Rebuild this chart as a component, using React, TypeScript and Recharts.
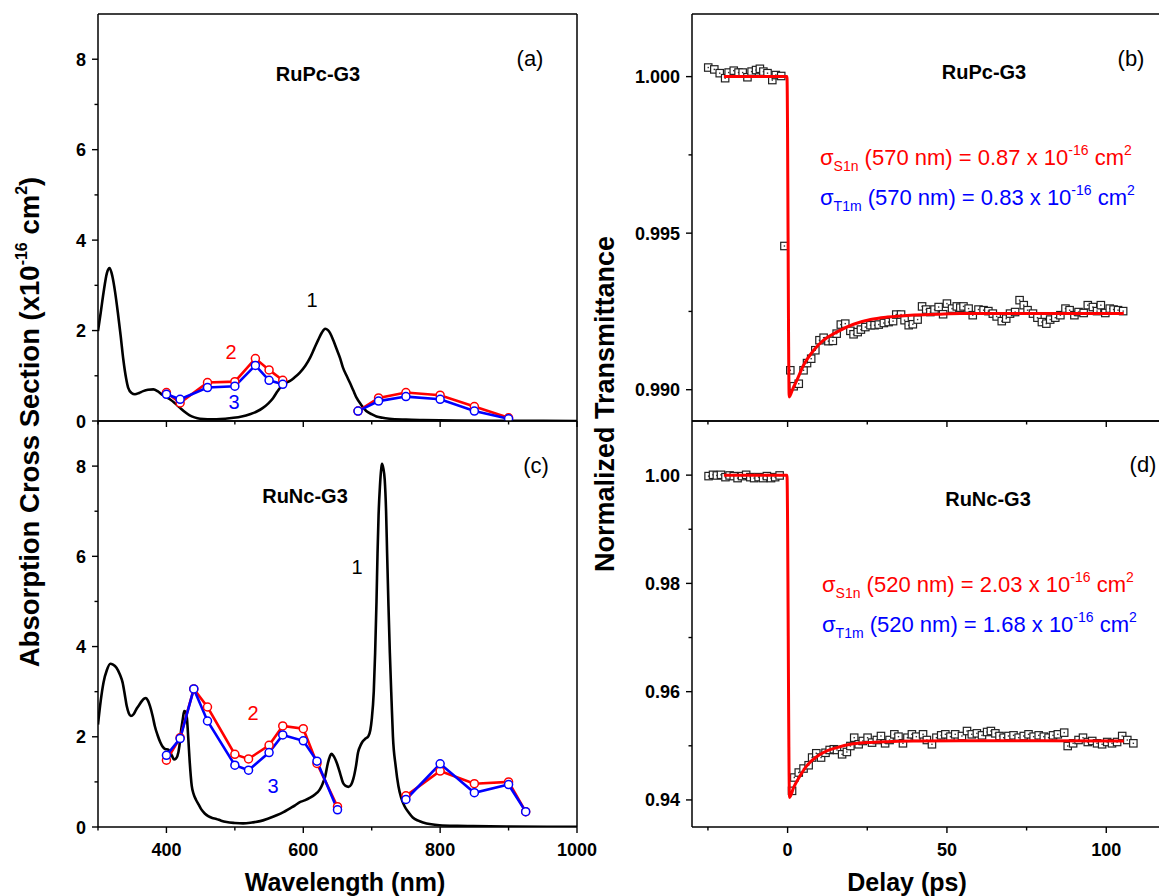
import { LineChart, ComposedChart, Line, Scatter, XAxis, YAxis } from 'recharts'

const FONT = '"Liberation Sans", Arial, sans-serif'
const RED = '#ff0000'
const BLUE = '#0000ff'

// ---- (a) RuPc-G3 absorption spectrum, curve 1
const pcAbsWl = [300, 304, 308, 313, 317, 321, 325, 329, 333, 337, 341, 344, 349, 354, 360, 366, 373, 381, 387, 393, 399, 405, 412, 420, 427, 434, 441, 449, 460, 473, 486, 498, 510, 522, 532, 541, 549, 556, 562, 568, 574, 580, 587, 595, 603, 610, 616, 622, 627, 632, 636, 639, 644, 649, 654, 658, 663, 668, 673, 678, 685, 692, 700, 707, 716, 726, 750, 775, 824, 900, 1000]
const pcAbsVal = [1.99, 2.4, 2.83, 3.27, 3.38, 3.2, 2.85, 2.4, 1.9, 1.36, 0.95, 0.74, 0.62, 0.59, 0.62, 0.66, 0.69, 0.7, 0.66, 0.59, 0.54, 0.48, 0.4, 0.29, 0.2, 0.125, 0.08, 0.05, 0.04, 0.04, 0.05, 0.07, 0.1, 0.15, 0.21, 0.29, 0.39, 0.51, 0.65, 0.77, 0.84, 0.88, 0.96, 1.07, 1.22, 1.4, 1.6, 1.8, 1.95, 2.04, 2.01, 1.95, 1.78, 1.58, 1.38, 1.18, 1.01, 0.85, 0.68, 0.51, 0.35, 0.22, 0.15, 0.1, 0.07, 0.05, 0.03, 0.02, 0.01, 0.005, 0]

// (a) excited-state cross sections, curves 2 (S1n) and 3 (T1m)
const pcWl1 = [400, 420, 460, 500, 530, 550, 570]
const pcWl2 = [680, 710, 750, 800, 850, 900]
const pcS1n1 = [0.63, 0.4, 0.85, 0.87, 1.38, 1.13, 0.9]
const pcS1n2 = [0.22, 0.51, 0.63, 0.57, 0.32, 0.07]
const pcT1m1 = [0.59, 0.48, 0.74, 0.77, 1.23, 0.9, 0.81]
const pcT1m2 = [0.22, 0.44, 0.54, 0.48, 0.22, 0.05]

// ---- (c) RuNc-G3 absorption spectrum, curve 1
const ncAbsWl = [300, 304, 308, 313, 318, 322, 327, 332, 336, 339, 342, 345, 348, 352, 356, 360, 364, 368, 370, 373, 376, 380, 383, 387, 391, 395, 398, 402, 404, 408, 411, 414, 416, 419, 421, 424, 426, 428, 430, 432, 434, 437, 440, 443, 447, 451, 456, 461, 467, 473, 480, 488, 500, 512, 525, 537, 549, 561, 571, 580, 588, 595, 602, 610, 617, 624, 628, 632, 636, 639, 641, 644, 649, 654, 658, 662, 666, 670, 673, 677, 680, 684, 687, 691, 695, 698, 700, 703, 705, 707, 708.5, 710, 712, 714, 715, 717, 719, 721, 722.5, 724.5, 726.5, 729, 731, 735, 739, 743, 748, 754, 760, 768, 775, 787, 799, 825, 848, 900, 1000]
const ncAbsVal = [2.27, 2.8, 3.2, 3.48, 3.62, 3.6, 3.53, 3.38, 3.2, 2.95, 2.68, 2.52, 2.46, 2.5, 2.61, 2.7, 2.79, 2.85, 2.86, 2.8, 2.68, 2.45, 2.24, 2.04, 1.88, 1.77, 1.73, 1.72, 1.7, 1.58, 1.5, 1.52, 1.57, 1.8, 2.09, 2.4, 2.57, 2.55, 2.4, 1.95, 1.45, 0.91, 0.72, 0.61, 0.5, 0.39, 0.3, 0.24, 0.2, 0.18, 0.14, 0.11, 0.09, 0.08, 0.1, 0.13, 0.19, 0.26, 0.33, 0.41, 0.48, 0.55, 0.59, 0.65, 0.72, 0.83, 0.95, 1.12, 1.42, 1.57, 1.62, 1.58, 1.42, 1.18, 0.98, 0.91, 0.89, 0.94, 1.06, 1.35, 1.65, 1.82, 1.9, 1.96, 2.01, 2.15, 2.38, 3.0, 3.86, 5.0, 6.07, 6.9, 7.55, 7.95, 8.05, 7.95, 7.7, 7.0, 6.07, 4.9, 3.86, 2.8, 2.01, 1.35, 0.91, 0.65, 0.46, 0.32, 0.21, 0.14, 0.1, 0.06, 0.04, 0.025, 0.02, 0.01, 0.005]

const ncWl1 = [400, 420, 440, 460, 500, 520, 550, 570, 600, 620, 650]
const ncWl2 = [750, 800, 850, 900, 925]
const ncS1n1 = [1.48, 1.98, 3.06, 2.66, 1.61, 1.51, 1.81, 2.24, 2.18, 1.41, 0.45]
const ncS1n2 = [0.69, 1.24, 0.96, 1.0, 0.34]
const ncT1m1 = [1.59, 1.96, 3.06, 2.35, 1.37, 1.26, 1.65, 2.04, 1.91, 1.46, 0.38]
const ncT1m2 = [0.61, 1.4, 0.76, 0.94, 0.34]

// ---- (b) RuPc-G3 transmittance vs delay
const pcDelay = [-24.9, -23.0, -21.3, -19.6, -18.5, -16.9, -15.4, -14.1, -12.6, -11.3, -9.9, -8.7, -7.6, -6.3, -4.8, -3.7, -2.0, -1.0, 0.85, 1.9, 3.5, 5.0, 6.1, 7.4, 8.7, 10.0, 11.3, 12.8, 14.2, 15.4, 16.7, 18.1, 19.7, 20.7, 22.0, 23.0, 24.4, 26.0, 27.3, 28.6, 30.2, 31.7, 33.1, 34.1, 35.6, 36.7, 38.0, 39.3, 40.8, 42.2, 43.5, 44.8, 46.1, 47.4, 48.8, 50.0, 51.6, 53.1, 54.2, 55.2, 56.8, 58.1, 59.9, 61.5, 63.0, 64.4, 65.6, 67.2, 68.6, 69.8, 71.4, 72.8, 74.1, 75.3, 77.0, 78.4, 79.8, 81.2, 82.4, 84.0, 85.6, 87.2, 88.5, 90.0, 91.3, 92.9, 94.2, 95.8, 97.1, 98.3, 99.7, 101.1, 102.3, 103.7, 105.3]
const pcTrans = [1.00029, 1.00023, 1.00011, 0.99995, 1.00013, 1.00019, 1.00013, 1.00013, 0.99998, 1.00016, 1.00021, 1.00025, 1.00016, 1.00011, 0.99989, 1.00005, 1.00002, 0.99459, 0.99062, 0.99011, 0.99019, 0.99062, 0.99085, 0.99099, 0.99126, 0.99158, 0.99166, 0.99155, 0.99156, 0.99179, 0.99208, 0.99211, 0.99188, 0.99177, 0.99184, 0.99192, 0.992, 0.99206, 0.99206, 0.99208, 0.99213, 0.99216, 0.99219, 0.9924, 0.9924, 0.99222, 0.99206, 0.99209, 0.99224, 0.99266, 0.99256, 0.99248, 0.99256, 0.99264, 0.99241, 0.99275, 0.99259, 0.99266, 0.99262, 0.99266, 0.99259, 0.99238, 0.99256, 0.99254, 0.99251, 0.99243, 0.99234, 0.99219, 0.99227, 0.99243, 0.99248, 0.99286, 0.9927, 0.99254, 0.99243, 0.9923, 0.99216, 0.99211, 0.99224, 0.9923, 0.99238, 0.99259, 0.99254, 0.99238, 0.99248, 0.99245, 0.9927, 0.99264, 0.99251, 0.9927, 0.99245, 0.99259, 0.99256, 0.99254, 0.99251]
const pcFitT = [-20, -0.2, 0.5, 1.6, 2.9, 5.0, 8.2, 11.3, 15.4, 20.7, 26.0, 31.3, 38.6, 47.0, 54.3, 70, 90, 105.5]
const pcFitV = [1.0, 1.0, 0.98977, 0.99002, 0.9903, 0.99078, 0.99126, 0.99158, 0.99184, 0.99209, 0.99224, 0.99232, 0.99238, 0.99241, 0.99243, 0.99243, 0.99243, 0.99243]

// ---- (d) RuNc-G3 transmittance vs delay
const ncDelay = [-24.8, -23.4, -22.2, -20.9, -19.5, -18.2, -16.9, -15.7, -14.3, -13.0, -11.7, -10.5, -9.1, -7.7, -6.5, -5.2, -3.9, -2.5, 1.4, 2.1, 3.5, 5.0, 6.6, 7.7, 9.0, 10.5, 11.9, 13.2, 14.5, 15.5, 17.1, 18.6, 19.7, 20.9, 22.3, 23.6, 25.1, 26.5, 28.0, 29.3, 30.6, 32.0, 33.5, 34.8, 36.2, 37.6, 39.0, 40.4, 42.5, 43.7, 45.3, 46.7, 48.2, 49.5, 51.1, 52.6, 54.7, 56.3, 57.8, 59.4, 61.0, 62.6, 63.8, 65.2, 66.5, 67.8, 69.3, 70.9, 72.5, 74.1, 75.6, 77.2, 78.8, 80.4, 81.9, 83.3, 84.8, 86.8, 87.9, 89.6, 91.3, 92.7, 94.2, 95.6, 97.1, 98.7, 100.3, 101.8, 103.4, 105.0, 106.6, 108.5]
const ncTrans = [0.99982, 1.00006, 0.99994, 1.00006, 0.99963, 0.99994, 0.99982, 0.99945, 0.99982, 1.00006, 0.99963, 0.99945, 0.99963, 0.99945, 0.99982, 0.99945, 0.99963, 0.99994, 0.94168, 0.94414, 0.94506, 0.9458, 0.94641, 0.94783, 0.94862, 0.94783, 0.94871, 0.94923, 0.94936, 0.94923, 0.94843, 0.94886, 0.94996, 0.9515, 0.95028, 0.95089, 0.9515, 0.95059, 0.95107, 0.95181, 0.95046, 0.95107, 0.95212, 0.95169, 0.95046, 0.9515, 0.95212, 0.95169, 0.95212, 0.95107, 0.95028, 0.9515, 0.95193, 0.95212, 0.95169, 0.95212, 0.95181, 0.95273, 0.95212, 0.9523, 0.95193, 0.95255, 0.95273, 0.9523, 0.95181, 0.9515, 0.95181, 0.95193, 0.9515, 0.95181, 0.95212, 0.95169, 0.95193, 0.95169, 0.9515, 0.95193, 0.95212, 0.95243, 0.94996, 0.95046, 0.95107, 0.9515, 0.9507, 0.95089, 0.95046, 0.95028, 0.9507, 0.95046, 0.9507, 0.95181, 0.95107, 0.95046]
const ncFitT = [-20, -0.2, 0.6, 1.9, 3.9, 6.0, 9.2, 12.3, 15.5, 19.7, 24.9, 31.2, 41.6, 54.2, 80, 105.5]
const ncFitV = [1.0, 1.0, 0.94046, 0.9423, 0.94444, 0.94628, 0.94801, 0.94905, 0.94967, 0.95028, 0.95059, 0.95077, 0.95089, 0.95095, 0.95092, 0.95089]

// ---- axis ticks
const wlTicks = [300, 400, 500, 600, 700, 800, 900, 1000]
const wlLabels = ['', '400', '', '600', '', '800', '', '1000']
const csTicks = [0, 1, 2, 3, 4, 5, 6, 7, 8]
const csLabels = ['0', '', '2', '', '4', '', '6', '', '8']
const delayTicks = [-25, 0, 25, 50, 75, 100]
const delayLabels = ['', '0', '', '50', '', '100']
const trBTicks = [0.99, 0.9925, 0.995, 0.9975, 1.0]
const trBLabels = ['0.990', '', '0.995', '', '1.000']
const trDTicks = [0.94, 0.95, 0.96, 0.97, 0.98, 0.99, 1.0]
const trDLabels = ['0.94', '', '0.96', '', '0.98', '', '1.00']

const pts = (xs: number[], ys: number[]) => xs.map((x, i) => ({ x, y: ys[i] }))

type Side = 'left' | 'right' | 'top' | 'bottom'

function makeTick(side: Side, ticks: number[], labels: string[], showLabels: boolean) {
  return function Tick(p: any) {
    const v = p.payload?.value
    const i = ticks.findIndex((t) => Math.abs(t - v) < 1e-9)
    const lab = i >= 0 ? labels[i] : ''
    const major = lab !== ''
    const len = major ? 6 : 3.5
    const { x, y } = p
    let line
    if (side === 'left') line = <line x1={x} x2={x - len} y1={y} y2={y} />
    else if (side === 'right') line = <line x1={x} x2={x + len} y1={y} y2={y} />
    else if (side === 'top') line = <line x1={x} x2={x} y1={y} y2={y - len} />
    else line = <line x1={x} x2={x} y1={y} y2={y + len} />
    let text = null
    if (showLabels && major) {
      const common = { fontFamily: FONT, fontWeight: 700, fontSize: 18, fill: '#000', stroke: 'none' }
      if (side === 'left')
        text = <text x={x - 12} y={y + 6.5} textAnchor="end" {...common}>{lab}</text>
      else if (side === 'bottom')
        text = <text x={x} y={y + 28.5} textAnchor="middle" {...common}>{lab}</text>
    }
    return (
      <g stroke="#000" strokeWidth={1.4}>
        {line}
        {text}
      </g>
    )
  }
}

const axisLine = { stroke: '#000', strokeWidth: 1.5 }

function Txt(props: { x: number; y: number; size: number; color?: string; bold?: boolean; children: any; align?: 'center' | 'left' }) {
  const { x, y, size, color = '#000', bold, children, align = 'center' } = props
  return (
    <div
      style={{
        position: 'absolute',
        left: x,
        top: y,
        transform: align === 'center' ? 'translate(-50%, -50%)' : 'translateY(-50%)',
        fontFamily: FONT,
        fontSize: size,
        fontWeight: bold ? 700 : 400,
        color,
        whiteSpace: 'nowrap',
        lineHeight: 1,
      }}
    >
      {children}
    </div>
  )
}

function Sigma(props: { x: number; y: number; color: string; sub: string; wl: string; val: string }) {
  const small = { fontSize: 14, position: 'relative' as const }
  return (
    <Txt x={props.x} y={props.y} size={22} color={props.color} align="left">
      σ<span style={{ ...small, top: 6 }}>{props.sub}</span> ({props.wl} nm) = {props.val} x 10
      <span style={{ ...small, top: -10 }}>-16</span> cm<span style={{ ...small, top: -10 }}>2</span>
    </Txt>
  )
}

interface AbsProps {
  top: number
  height: number
  margin: { top: number; right: number; bottom: number; left: number }
  bottomH: number
  showX: boolean
  curveWl: number[]
  curveVal: number[]
  wl1: number[]
  wl2: number[]
  s1: number[]
  s2: number[]
  t1: number[]
  t2: number[]
}

function AbsPanel(p: AbsProps) {
  const dotR = (c: string) => ({ r: 4, fill: '#fff', stroke: c, strokeWidth: 1.5 })
  const series = [
    { d: pts(p.wl1, p.s1), c: RED },
    { d: pts(p.wl2, p.s2), c: RED },
    { d: pts(p.wl1, p.t1), c: BLUE },
    { d: pts(p.wl2, p.t2), c: BLUE },
  ]
  return (
    <div style={{ position: 'absolute', left: 0, top: p.top }}>
      <LineChart width={600} height={p.height} margin={p.margin}>
        <XAxis dataKey="x" type="number" domain={[300, 1000]} ticks={wlTicks} interval={0}
          tickSize={0} tickMargin={0} axisLine={axisLine} tickLine={false} height={p.bottomH}
          tick={makeTick('bottom', wlTicks, wlLabels, p.showX)} allowDataOverflow />
        <XAxis xAxisId="top" orientation="top" dataKey="x" type="number" domain={[300, 1000]} ticks={wlTicks}
          interval={0} tickSize={0} tickMargin={0} axisLine={axisLine} tickLine={false} height={10}
          tick={makeTick('top', wlTicks, wlLabels, false)} />
        <YAxis type="number" domain={[0, 9]} ticks={csTicks} interval={0} tickSize={0} tickMargin={0}
          axisLine={axisLine} tickLine={false} width={90} tick={makeTick('left', csTicks, csLabels, true)} allowDataOverflow />
        <YAxis yAxisId="right" orientation="right" type="number" domain={[0, 9]} ticks={csTicks} interval={0}
          tickSize={0} tickMargin={0} axisLine={axisLine} tickLine={false} width={10}
          tick={makeTick('right', csTicks, csLabels, false)} />
        <Line data={pts(p.curveWl, p.curveVal)} dataKey="y" type="monotone" stroke="#000" strokeWidth={2.6}
          dot={false} isAnimationActive={false} />
        {series.map((s, i) => (
          <Line key={i} data={s.d} dataKey="y" type="linear" stroke={s.c} strokeWidth={2.6}
            dot={dotR(s.c)} isAnimationActive={false} />
        ))}
      </LineChart>
    </div>
  )
}

interface KinProps {
  top: number
  height: number
  margin: { top: number; right: number; bottom: number; left: number }
  bottomH: number
  showX: boolean
  domain: [number, number]
  yTicks: number[]
  yLabels: string[]
  t: number[]
  v: number[]
  fitT: number[]
  fitV: number[]
}

const SquareMark = (p: any) => (
  <g>
    <rect x={p.cx - 3.7} y={p.cy - 3.7} width={7.4} height={7.4} fill="#fff" stroke="#222" strokeWidth={1.2} />
    <rect x={p.cx - 0.7} y={p.cy - 0.7} width={1.4} height={1.4} fill="#333" />
  </g>
)

function KinPanel(p: KinProps) {
  // the fit curve goes in a second, transparent chart laid over the first so that it sits above the squares
  const hiddenAxes = [
    <XAxis key="x" dataKey="x" type="number" domain={[-30, 120]} height={p.bottomH} tick={false} axisLine={false}
      tickLine={false} allowDataOverflow />,
    <XAxis key="xt" xAxisId="top" orientation="top" type="number" domain={[-30, 120]} height={10} tick={false}
      axisLine={false} tickLine={false} />,
    <YAxis key="y" type="number" domain={p.domain} width={90} tick={false} axisLine={false} tickLine={false} allowDataOverflow />,
    <YAxis key="yr" yAxisId="right" orientation="right" type="number" domain={p.domain} width={10} tick={false}
      axisLine={false} tickLine={false} />,
  ]
  return (
    <div style={{ position: 'absolute', left: 600, top: p.top }}>
      <ComposedChart width={590} height={p.height} margin={p.margin}>
        <XAxis dataKey="x" type="number" domain={[-30, 120]} ticks={delayTicks} interval={0}
          tickSize={0} tickMargin={0} axisLine={axisLine} tickLine={false} height={p.bottomH}
          tick={makeTick('bottom', delayTicks, delayLabels, p.showX)} allowDataOverflow />
        <XAxis xAxisId="top" orientation="top" dataKey="x" type="number" domain={[-30, 120]} ticks={delayTicks}
          interval={0} tickSize={0} tickMargin={0} axisLine={axisLine} tickLine={false} height={10}
          tick={makeTick('top', delayTicks, delayLabels, false)} />
        <YAxis type="number" domain={p.domain} ticks={p.yTicks} interval={0} tickSize={0} tickMargin={0}
          axisLine={axisLine} tickLine={false} width={90} tick={makeTick('left', p.yTicks, p.yLabels, true)} allowDataOverflow />
        <YAxis yAxisId="right" orientation="right" type="number" domain={p.domain} ticks={p.yTicks} interval={0}
          tickSize={0} tickMargin={0} axisLine={axisLine} tickLine={false} width={10}
          tick={makeTick('right', p.yTicks, p.yLabels, false)} />
        <Scatter data={pts(p.t, p.v)} dataKey="y" shape={SquareMark} isAnimationActive={false} />
      </ComposedChart>
      <div style={{ position: 'absolute', left: 0, top: 0 }}>
        <LineChart width={590} height={p.height} margin={p.margin}>
          {hiddenAxes}
          <Line data={pts(p.fitT, p.fitV)} dataKey="y" type="monotone" stroke={RED} strokeWidth={3}
            dot={false} isAnimationActive={false} />
        </LineChart>
      </div>
    </div>
  )
}

export default function App() {
  return (
    <div style={{ position: 'absolute', left: 0, top: 0, width: 1159, height: 896, overflow: 'hidden', background: '#fff' }}>
      <AbsPanel top={0} height={440} margin={{ top: 4, right: 13, bottom: 9, left: 8 }} bottomH={10} showX={false}
        curveWl={pcAbsWl} curveVal={pcAbsVal} wl1={pcWl1} wl2={pcWl2} s1={pcS1n1} s2={pcS1n2} t1={pcT1m1} t2={pcT1m2} />
      <AbsPanel top={411} height={480} margin={{ top: 0, right: 13, bottom: 0, left: 8 }} bottomH={64} showX
        curveWl={ncAbsWl} curveVal={ncAbsVal} wl1={ncWl1} wl2={ncWl2} s1={ncS1n1} s2={ncS1n2} t1={ncT1m1} t2={ncT1m2} />
      <KinPanel top={0} height={440} margin={{ top: 4, right: 10, bottom: 9, left: 2 }} bottomH={10} showX={false}
        domain={[0.989, 1.002]} yTicks={trBTicks} yLabels={trBLabels} t={pcDelay} v={pcTrans} fitT={pcFitT} fitV={pcFitV} />
      <KinPanel top={411} height={480} margin={{ top: 0, right: 10, bottom: 0, left: 2 }} bottomH={64} showX
        domain={[0.935, 1.01]} yTicks={trDTicks} yLabels={trDLabels} t={ncDelay} v={ncTrans} fitT={ncFitT} fitV={ncFitV} />

      {/* panel annotations */}
      <Txt x={318} y={74} size={20} bold>RuPc-G3</Txt>
      <Txt x={530} y={59} size={22}>(a)</Txt>
      <Txt x={312} y={300} size={20}>1</Txt>
      <Txt x={231} y={352} size={20} color={RED}>2</Txt>
      <Txt x={234} y={402} size={20} color={BLUE}>3</Txt>

      <Txt x={305} y={496} size={20} bold>RuNc-G3</Txt>
      <Txt x={536} y={466} size={22}>(c)</Txt>
      <Txt x={357} y={567} size={20}>1</Txt>
      <Txt x={253} y={713} size={20} color={RED}>2</Txt>
      <Txt x={273} y={786} size={20} color={BLUE}>3</Txt>

      <Txt x={984} y={72} size={20} bold>RuPc-G3</Txt>
      <Txt x={1131} y={59} size={22}>(b)</Txt>
      <Sigma x={820} y={158} color={RED} sub="S1n" wl="570" val="0.87" />
      <Sigma x={820} y={198} color={BLUE} sub="T1m" wl="570" val="0.83" />

      <Txt x={988} y={499} size={20} bold>RuNc-G3</Txt>
      <Txt x={1143} y={465} size={22}>(d)</Txt>
      <Sigma x={822} y={585} color={RED} sub="S1n" wl="520" val="2.03" />
      <Sigma x={822} y={625} color={BLUE} sub="T1m" wl="520" val="1.68" />

      {/* axis titles */}
      <Txt x={345} y={882} size={25} bold>Wavelength (nm)</Txt>
      <Txt x={907} y={882} size={25} bold>Delay (ps)</Txt>
      <div style={{ position: 'absolute', left: 30, top: 422, transform: 'translate(-50%, -50%) rotate(-90deg)',
        fontFamily: FONT, fontWeight: 700, fontSize: 27.5, whiteSpace: 'nowrap', lineHeight: 1 }}>
        Absorption Cross Section (x10<span style={{ fontSize: 16, position: 'relative', top: -12 }}>-16</span> cm
        <span style={{ fontSize: 16, position: 'relative', top: -12 }}>2</span>)
      </div>
      <div style={{ position: 'absolute', left: 605, top: 404, transform: 'translate(-50%, -50%) rotate(-90deg)',
        fontFamily: FONT, fontWeight: 700, fontSize: 27, whiteSpace: 'nowrap', lineHeight: 1 }}>
        Normalized Transmittance
      </div>
    </div>
  )
}
